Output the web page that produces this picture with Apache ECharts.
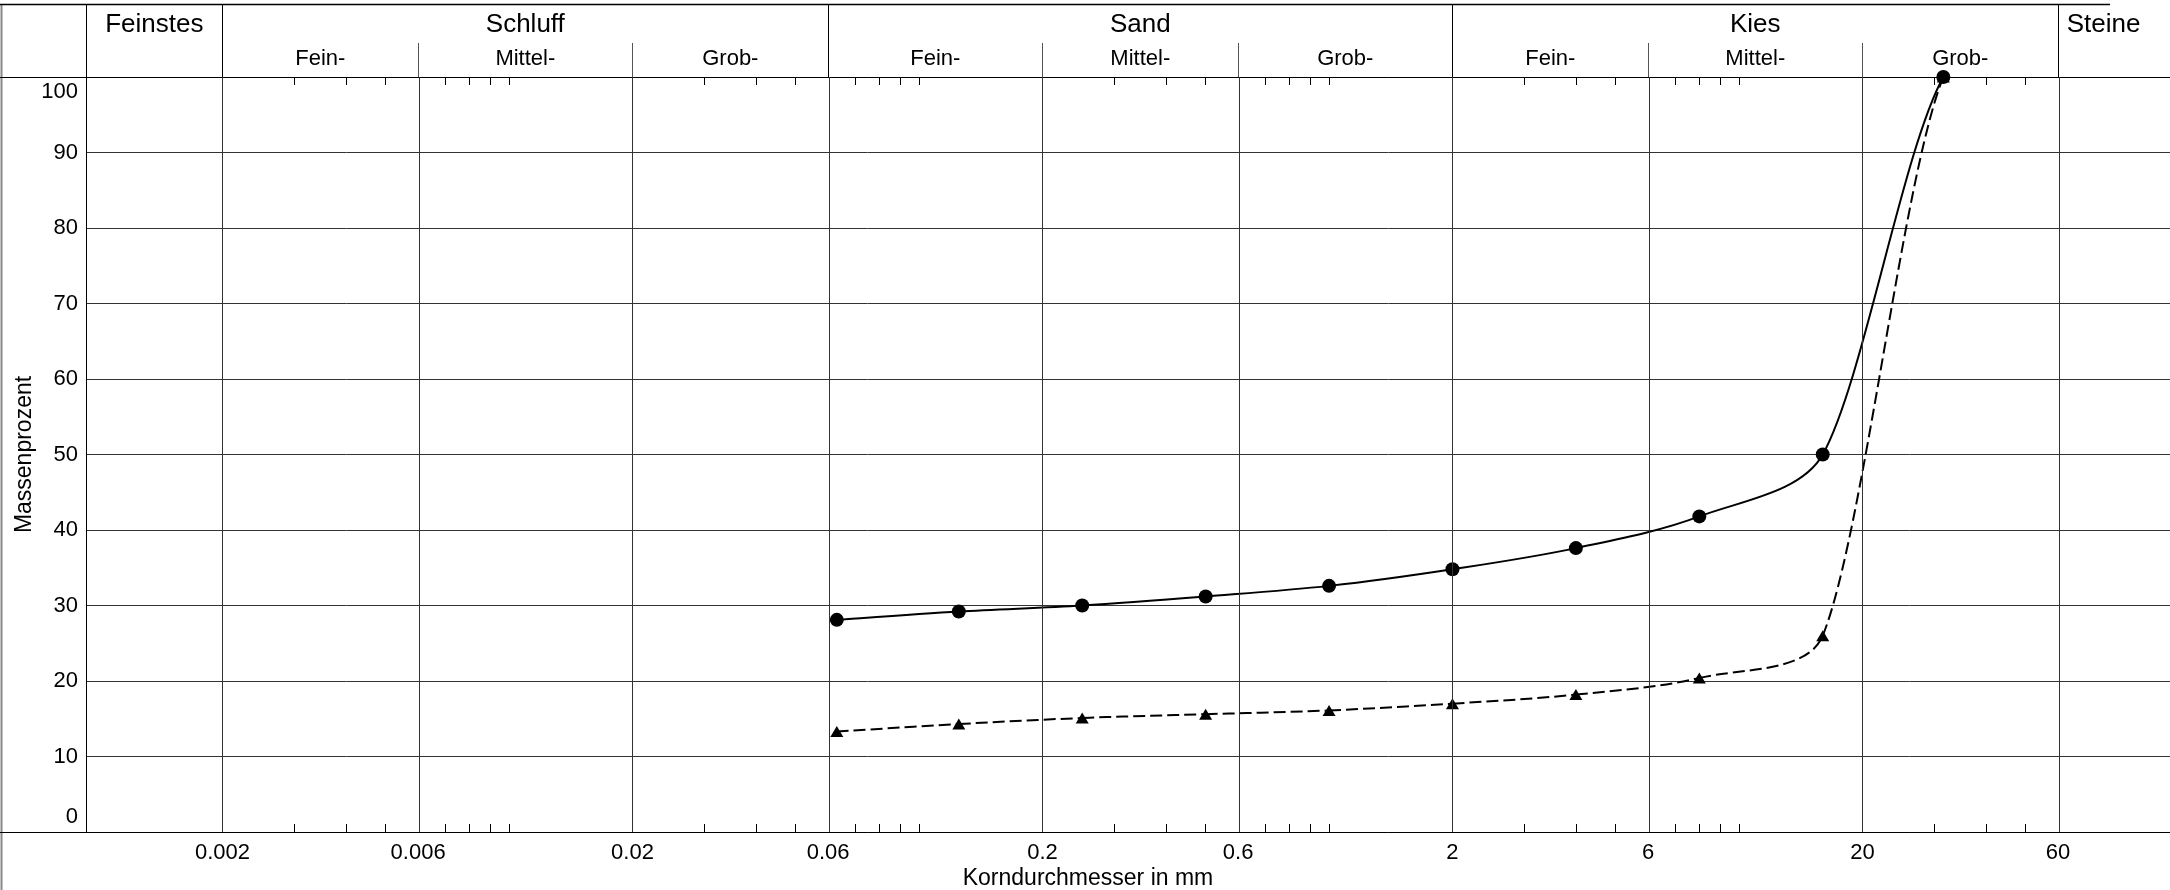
<!DOCTYPE html>
<html>
<head>
<meta charset="utf-8">
<script src="https://cdn.jsdelivr.net/npm/echarts@6/dist/echarts.min.js"></script>
<style>
  html, body { margin: 0; padding: 0; background: #fff; }
  #chart { width: 2170px; height: 890px; }
</style>
</head>
<body>
<div id="chart"></div>
<script>
// Siebdurchgang (Korngroesse in mm, Massenprozent)
var sieves = [0.063, 0.125, 0.25, 0.5, 1, 2, 4, 8, 16, 31.5];
var probe1 = [28.1, 29.2, 30.0, 31.2, 32.6, 34.8, 37.6, 41.8, 50.0, 100];
var probe2 = [13.3, 14.3, 15.1, 15.6, 16.1, 17.0, 18.2, 20.4, 26.0, 100];

// x-achse (log), beschriftete linien
var majorTicks = [0.002, 0.006, 0.02, 0.06, 0.2, 0.6, 2, 6, 20, 60];
var majorLabels = ['0.002', '0.006', '0.02', '0.06', '0.2', '0.6', '2', '6', '20', '60'];
var minorTicks = [0.003, 0.004, 0.005, 0.007, 0.008, 0.009, 0.01,
  0.03, 0.04, 0.05, 0.07, 0.08, 0.09, 0.1,
  0.3, 0.4, 0.5, 0.7, 0.8, 0.9, 1,
  3, 4, 5, 7, 8, 9, 10,
  30, 40, 50];

// kopfzeile
var mainNames = ['Feinstes', 'Schluff', 'Sand', 'Kies', 'Steine'];
var mainBounds = [0.000929, 0.002, 0.06, 2, 60, 100];
var subNames = ['Fein-', 'Mittel-', 'Grob-', 'Fein-', 'Mittel-', 'Grob-', 'Fein-', 'Mittel-', 'Grob-'];
var subBounds = [0.002, 0.006, 0.02, 0.06, 0.2, 0.6, 2, 6, 20, 60];

var xMin = Math.log10(0.000929);
var xMax = Math.log10(112.5);
var FONT = "'Liberation Sans', Arial, sans-serif";

function lg(v) { return Math.log10(v); }

function mids(bounds) {
  var out = [];
  for (var i = 0; i < bounds.length - 1; i++) {
    out.push((lg(bounds[i]) + lg(bounds[i + 1])) / 2);
  }
  return out;
}

function lookup(values, names) {
  return function (v) {
    for (var i = 0; i < values.length; i++) {
      if (Math.abs(values[i] - v) < 1e-6) return names[i];
    }
    return '';
  };
}

var majorLog = majorTicks.map(lg);
var minorLog = minorTicks.map(lg);
var mainMid = mids(mainBounds);
var subMid = mids(subBounds);
var mainSep = [xMin].concat([0.002, 0.06, 2, 60].map(lg));
var subSep = [0.006, 0.02, 0.2, 0.6, 6, 20].map(lg);

function pairs(ys) {
  var d = [];
  for (var i = 0; i < sieves.length; i++) d.push([lg(sieves[i]), ys[i]]);
  return d;
}

function dist(a, b) { return Math.sqrt((a[0] - b[0]) * (a[0] - b[0]) + (a[1] - b[1]) * (a[1] - b[1])); }

// glatte kurve in pixelkoordinaten, arme nach segmentlaenge begrenzt
function curveSeries(ys, dash) {
  var data = pairs(ys);
  return {
    type: 'custom',
    data: data,
    clip: false,
    silent: true,
    z: 2,
    renderItem: function (params, api) {
      if (params.dataIndex !== 0) return null;
      var p = data.map(function (d) { return api.coord(d); });
      var n = p.length;
      var armIn = [], armOut = [];
      for (var i = 0; i < n; i++) {
        if (i === 0) {
          armOut[i] = [(p[1][0] - p[0][0]) / 6, (p[1][1] - p[0][1]) / 6];
          armIn[i] = [0, 0];
        } else if (i === n - 1) {
          armIn[i] = [(p[i][0] - p[i - 2][0]) / 6, (p[i][1] - p[i - 2][1]) / 6];
          armOut[i] = [0, 0];
        } else {
          var dx = (p[i + 1][0] - p[i - 1][0]) / 6;
          var dy = (p[i + 1][1] - p[i - 1][1]) / 6;
          var lp = dist(p[i], p[i - 1]), ln = dist(p[i + 1], p[i]);
          var fin = Math.min(1, 2 * lp / (lp + ln));
          var fout = Math.min(1, 2 * ln / (lp + ln));
          armIn[i] = [dx * fin, dy * fin];
          armOut[i] = [dx * fout, dy * fout];
        }
      }
      var children = [];
      for (var j = 0; j < n - 1; j++) {
        children.push({
          type: 'bezierCurve',
          shape: {
            x1: p[j][0], y1: p[j][1],
            cpx1: p[j][0] + armOut[j][0], cpy1: p[j][1] + armOut[j][1],
            cpx2: p[j + 1][0] - armIn[j + 1][0], cpy2: p[j + 1][1] - armIn[j + 1][1],
            x2: p[j + 1][0], y2: p[j + 1][1]
          },
          style: { stroke: '#000', lineWidth: 2, fill: null, lineDash: dash }
        });
      }
      return { type: 'group', children: children };
    }
  };
}

function markerSeries(ys, symbol, size) {
  return {
    type: 'line',
    data: pairs(ys),
    clip: false,
    symbol: symbol,
    symbolSize: size,
    showSymbol: true,
    itemStyle: { color: '#000' },
    lineStyle: { opacity: 0, width: 0 },
    z: 4
  };
}

function topAxis(extra) {
  var a = {
    type: 'value', position: 'top', min: xMin, max: xMax,
    axisLine: { show: false, onZero: false },
    axisTick: { show: false },
    axisLabel: { show: false },
    splitLine: { show: false }
  };
  for (var k in extra) a[k] = extra[k];
  return a;
}

var myChart = echarts.init(document.getElementById('chart'));

var verticals = markerSeries(probe2, 'triangle', [13, 11]);
verticals.markLine = {
  silent: true, symbol: 'none', label: { show: false },
  lineStyle: { color: '#333', width: 1, type: 'solid' },
  data: majorLog.map(function (v) { return { xAxis: v }; })
};

var option = {
  animation: false,
  backgroundColor: '#fff',
  textStyle: { fontFamily: FONT, color: '#000' },
  grid: { left: 86, right: 0, top: 77, bottom: 58, containLabel: false, outerBoundsMode: 'none' },
  graphic: [
    { type: 'line', silent: true, shape: { x1: 1.5, y1: 4, x2: 1.5, y2: 890 }, style: { stroke: '#888', lineWidth: 2 } },
    { type: 'line', silent: true, shape: { x1: 0, y1: 4.5, x2: 2110, y2: 4.5 }, style: { stroke: '#000', lineWidth: 1.5 } },
    { type: 'line', silent: true, shape: { x1: 0, y1: 77.5, x2: 86, y2: 77.5 }, style: { stroke: '#000', lineWidth: 1 } },
    { type: 'line', silent: true, shape: { x1: 0, y1: 832.5, x2: 86, y2: 832.5 }, style: { stroke: '#000', lineWidth: 1 } }
  ],
  xAxis: [
    {
      type: 'value', position: 'bottom', min: xMin, max: xMax,
      name: 'Korndurchmesser in mm', nameLocation: 'middle', nameGap: 35, nameMoveOverlap: false,
      nameTextStyle: { fontSize: 23, color: '#000', fontFamily: FONT, padding: [0, 80, 0, 0] },
      axisLine: { show: true, onZero: false, lineStyle: { color: '#000', width: 1 } },
      axisTick: { show: true, inside: true, length: 8, customValues: minorLog, lineStyle: { color: '#000', width: 1 } },
      axisLabel: {
        show: true, customValues: majorLog, margin: 10, fontSize: 22, color: '#000', fontFamily: FONT,
        formatter: lookup(majorLog, majorLabels)
      },
      splitLine: { show: false }
    },
    // obere rahmenlinie mit kleinen strichen nach innen
    topAxis({
      axisLine: { show: true, onZero: false, lineStyle: { color: '#000', width: 1 } },
      axisTick: { show: true, inside: true, length: 8, customValues: minorLog, lineStyle: { color: '#000', width: 1 } }
    }),
    // hauptgruppen
    topAxis({
      axisTick: { show: true, inside: false, length: 73, customValues: mainSep, lineStyle: { color: '#000', width: 1 } },
      axisLabel: {
        show: true, customValues: mainMid, margin: 39, fontSize: 26, color: '#000', fontFamily: FONT,
        formatter: lookup(mainMid, mainNames)
      }
    }),
    // untergruppen
    topAxis({
      axisTick: { show: true, inside: false, length: 34, customValues: subSep, lineStyle: { color: '#555', width: 1 } },
      axisLabel: {
        show: true, customValues: subMid, margin: 7, fontSize: 22, color: '#000', fontFamily: FONT,
        formatter: lookup(subMid, subNames)
      }
    })
  ],
  yAxis: {
    type: 'value', min: 0, max: 100, interval: 10,
    name: 'Massenprozent', nameLocation: 'middle', nameGap: 50, nameMoveOverlap: false,
    nameTextStyle: { fontSize: 23, color: '#000', fontFamily: FONT },
    axisLine: { show: true, onZero: false, lineStyle: { color: '#000', width: 1 } },
    axisTick: { show: false },
    axisLabel: {
      margin: 8, fontSize: 22, color: '#000', fontFamily: FONT, lineHeight: 30,
      formatter: function (v) {
        if (v === 100) return '\n100';
        if (v === 0) return '0\n';
        return String(v);
      }
    },
    splitLine: { show: true, lineStyle: { color: '#333', width: 1 } }
  },
  series: [
    curveSeries(probe2, [12, 5]),
    curveSeries(probe1, null),
    verticals,
    markerSeries(probe1, 'circle', 14)
  ]
};

myChart.setOption(option);
</script>
</body>
</html>
